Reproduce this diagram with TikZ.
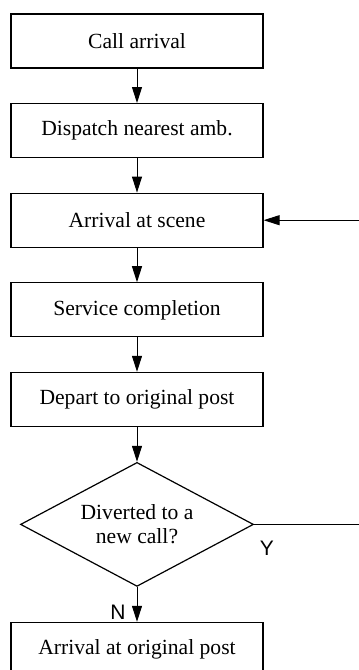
\documentclass[tikz,border=0pt]{standalone}
\usepackage{fontspec}
\setmainfont{Liberation Serif}
\newfontfamily\labelfont{Liberation Sans}
\usetikzlibrary{arrows.meta,positioning,shapes.geometric}

\tikzset{
  procbox/.style={draw, line width=0.6pt, minimum width=126pt, minimum height=27pt,
    inner sep=0pt, font=\fontsize{10.8}{12.5}\selectfont},
  decbox/.style={diamond, draw, line width=0.6pt, aspect=1.88, minimum width=116.5pt,
    minimum height=62pt, inner sep=0pt, align=center, font=\fontsize{10.8}{12}\selectfont},
  flowline/.style={line width=0.5pt, -{Triangle[length=8pt,width=5pt]}},
  yesno/.style={font=\labelfont\fontsize{10.5}{12}\selectfont, inner sep=0pt}
}

\begin{document}
\begin{tikzpicture}[node distance=44.8pt]
      \useasboundingbox (0,0) rectangle (179.5pt,-335pt);
      \begin{scope}[every node/.style={procbox}]
        \node (call) at (68.5pt,-20.5pt) {Call arrival};
        \node (disp) [below of= call] {Dispatch nearest amb.};
        \node (scene) [below of= disp] {Arrival at scene};
        \node (serv) [below of= scene] {Service completion};
        \node (depart) [below of= serv] {Depart to original post};
      \end{scope}
      \node (divert) [decbox, below of= depart, node distance=62.5pt] {Diverted to a\\new call?};
      \node (post) [procbox, below of= divert, node distance=62.5pt] {Arrival at original post};
      \node (ylab) [yesno] at (133.5pt,-274pt) {Y};
      \node (nlab) [yesno] at (59pt,-306pt) {N};
      \begin{scope}[every path/.style={draw, flowline}]
        \path (call) -- (disp);
        \path (disp) -- (scene);
        \path (scene) -- (serv);
        \path (serv) -- (depart);
        \path (depart) -- (divert);
        \path (divert) -- (post);
        \path (divert.east) -- ++(70pt,0) |- (scene.east);
      \end{scope}
    \end{tikzpicture}
\end{document}
